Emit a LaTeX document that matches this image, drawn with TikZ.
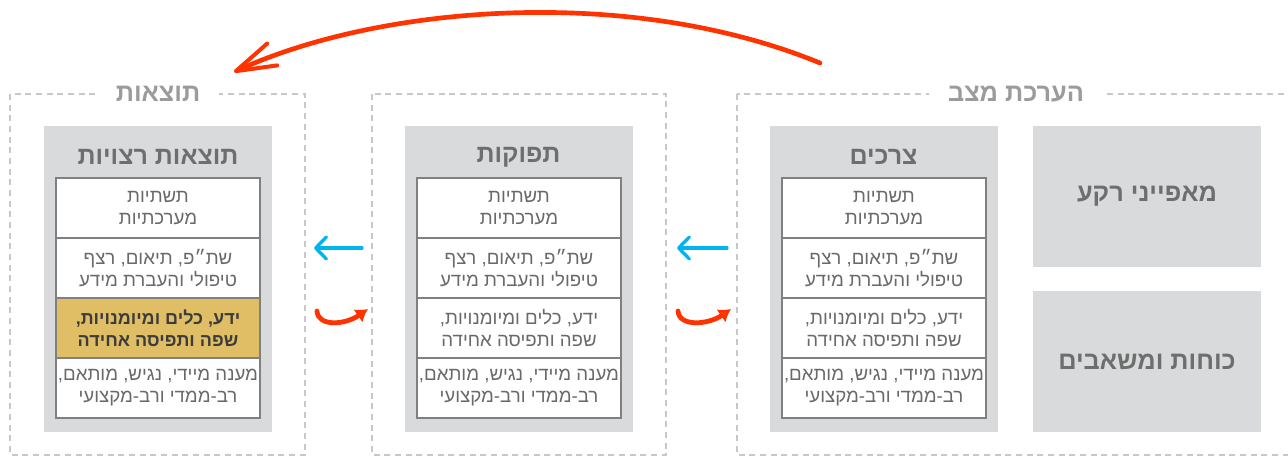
\documentclass[tikz,border=0pt]{standalone}
\usepackage{fontspec}
\setmainfont{Liberation Sans}
\newfontfamily\hebfont[Script=Hebrew]{Liberation Sans}
\usetikzlibrary{arrows.meta,positioning}
\TeXXeTstate=1
\newcommand{\heb}[1]{\beginR#1\endR}

% Cell texts (same in every column)
\newcommand{\rowinfra}{\heb{תשתיות}\\\heb{מערכתיות}}
\newcommand{\rowcoop}{\heb{שת״פ, תיאום, רצף}\\\heb{טיפולי והעברת מידע}}
\newcommand{\rowskill}{\heb{ידע, כלים ומיומנויות,}\\\heb{שפה ותפיסה אחידה}}
\newcommand{\rowreply}{\heb{מענה מיידי, נגיש, מותאם,}\\\heb{רב-ממדי ורב-מקצועי}}

\definecolor{boxgray}{RGB}{217,218,220}
\definecolor{dashgray}{RGB}{200,200,200}
\definecolor{titlegray}{RGB}{155,155,155}
\definecolor{paneltext}{RGB}{110,110,110}
\definecolor{cellline}{RGB}{128,128,128}
\definecolor{celltext}{RGB}{105,105,105}
\definecolor{keytext}{RGB}{60,60,60}
\definecolor{gold}{RGB}{224,190,102}
\definecolor{arrowred}{RGB}{255,51,0}
\definecolor{arrowblue}{RGB}{0,180,240}

\begin{document}
\begin{tikzpicture}[x=0.75pt, y=-0.75pt,
	stageframe/.style={draw=dashgray, line width=1.5pt, dash pattern=on 4.5pt off 3.5pt},
	frametitle/.style={fill=white, inner xsep=14pt, inner ysep=2pt, text=titlegray, font=\hebfont\bfseries\fontsize{19}{22}\selectfont},
	panel/.style={fill=boxgray, minimum width=171pt, minimum height=229.5pt, inner sep=0pt},
	paneltitle/.style={text=paneltext, font=\hebfont\bfseries\fontsize{18.8}{22}\selectfont},
	sidebox/.style={fill=boxgray, minimum width=171pt, minimum height=105.75pt, inner sep=0pt, text=paneltext, font=\hebfont\bfseries\fontsize{19}{22}\selectfont},
	cell/.style={draw=cellline, line width=1pt, fill=white, minimum width=153pt, minimum height=45pt, inner sep=0pt, outer sep=0pt, align=center, text=celltext, font=\hebfont\fontsize{14}{16.5}\selectfont},
	keycell/.style={cell, fill=gold, text=keytext, font=\hebfont\bfseries\fontsize{13.5}{16.5}\selectfont},
	flowarrow/.style={arrowblue, line width=2.5pt, line cap=round, -{Straight Barb[round, length=8pt, width=16.5pt]}},
	turnarrow/.style={arrowred, line width=3.6pt, line cap=round, -{Latex[length=9pt, width=12pt]}},
	feedback/.style={arrowred, line width=3.5pt, line cap=round, -{Straight Barb[round, length=30pt, width=18pt, line width=3pt]}}
	]
	\clip (0,0) rectangle (1288,457);
	
	% Dashed stage frames
	\draw[stageframe] (10,94) rectangle (305,455);
	\draw[stageframe] (372,94) rectangle (666,455);
	\draw[stageframe] (737,94) rectangle (1300,455);
	\node[frametitle] (resLabel) at (158,94) {\heb{תוצאות}};
	\node[frametitle] (assLabel) at (1016,94) {\heb{הערכת מצב}};
	
	% Results column
	\node[panel] (resPanel) at (158,279) {};
	\node[paneltitle] (resTitle) at (158,157) {\heb{תוצאות רצויות}};
	\node[cell] (res1) at (158,208) {\rowinfra};
	\node[cell, below=0pt of res1] (res2) {\rowcoop};
	\node[keycell, below=0pt of res2] (res3) {\rowskill};
	\node[cell, below=0pt of res3] (res4) {\rowreply};
	
	% Outputs column
	\node[panel] (outPanel) at (518.5,279) {};
	\node[paneltitle] (outTitle) at (518.5,157) {\heb{תפוקות}};
	\node[cell] (out1) at (519,208) {\rowinfra};
	\node[cell, below=0pt of out1] (out2) {\rowcoop};
	\node[cell, below=0pt of out2] (out3) {\rowskill};
	\node[cell, below=0pt of out3] (out4) {\rowreply};
	
	% Needs column
	\node[panel] (needPanel) at (883.5,279) {};
	\node[paneltitle] (needTitle) at (883.5,157) {\heb{צרכים}};
	\node[cell] (need1) at (884,208) {\rowinfra};
	\node[cell, below=0pt of need1] (need2) {\rowcoop};
	\node[cell, below=0pt of need2] (need3) {\rowskill};
	\node[cell, below=0pt of need3] (need4) {\rowreply};
	
	% Background boxes
	\node[sidebox] (background) at (1147,196.5) {\heb{מאפייני רקע}};
	\node[sidebox] (resources) at (1147,361.5) {\heb{כוחות ומשאבים}};
	
	% Arrow ends
	\coordinate (flowA0) at (362,248);
	\coordinate (flowA1) at (314,248);
	\coordinate (flowB0) at (727,248);
	\coordinate (flowB1) at (677,248);
	\coordinate (turnA0) at (317,311);
	\coordinate (turnA1) at (368,309);
	\coordinate (turnB0) at (678,311);
	\coordinate (turnB1) at (731,309);
	\coordinate (fbStart) at (820,63);
	\coordinate (fbEnd) at (234,72);
	
	% Blue arrows
	\draw[flowarrow] (flowA0) -- (flowA1);
	\draw[flowarrow] (flowB0) -- (flowB1);
	
	% Red turn arrows
	\draw[turnarrow] (turnA0) .. controls (318,327) and (345,325) .. (turnA1);
	\draw[turnarrow] (turnB0) .. controls (679,327) and (708,325) .. (turnB1);
	
	% Feedback arrow
	\draw[feedback] (fbStart) .. controls (630,-15) and (380,5) .. (fbEnd);
	
\end{tikzpicture}
\end{document}
